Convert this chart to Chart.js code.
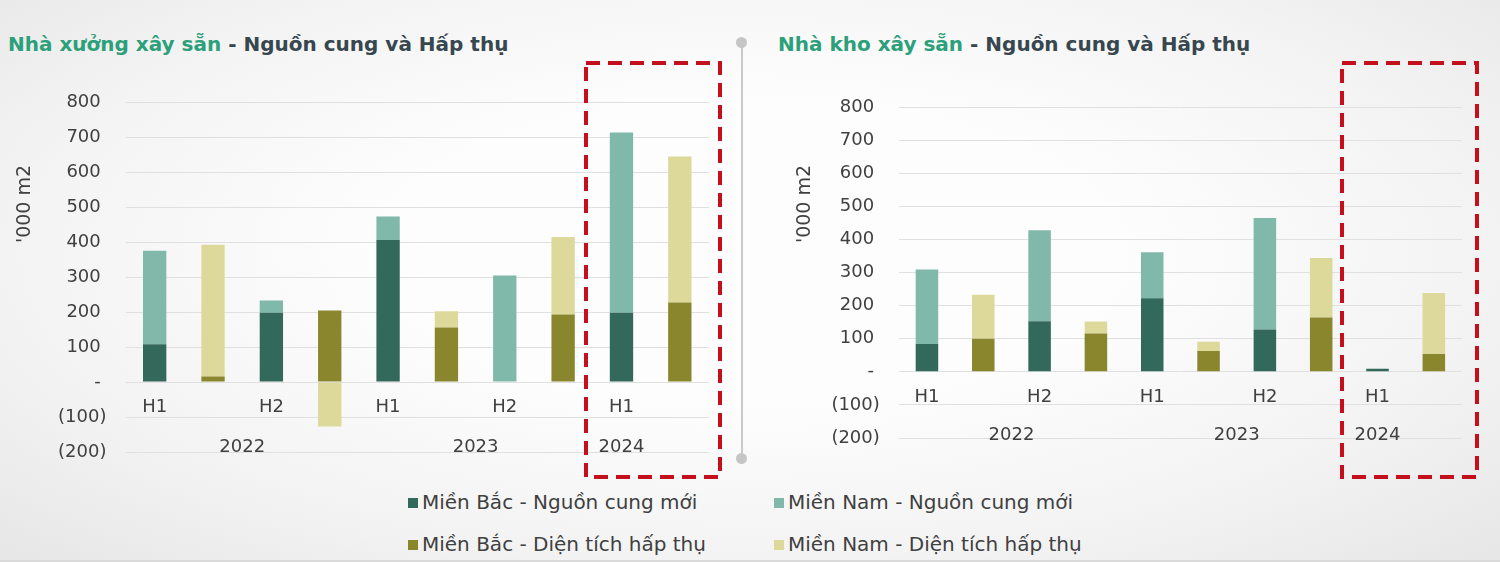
<!DOCTYPE html>
<html>
<head>
<meta charset="utf-8">
<script src="https://cdn.jsdelivr.net/npm/chart.js@4.4.1/dist/chart.umd.min.js"></script>
<style>
  html, body { margin: 0; padding: 0; }
  body {
    width: 1500px; height: 562px; position: relative; overflow: hidden;
    background: radial-gradient(ellipse at 50% 45%, #fdfdfd 35%, #f3f3f3 70%, #e6e6e6 100%);
    font-family: "DejaVu Sans", sans-serif;
  }
  .title { position: absolute; top: 34px; font-weight: bold; font-size: 20px; line-height: 20px; color: #37474f; white-space: nowrap; }
  .title .hl { color: #2ba07a; }
  .wrap { position: absolute; top: 0; height: 482px; }
  .sep { position: absolute; left: 741px; top: 42px; width: 2px; height: 416px; background: #c9c9c9; }
  .dot { position: absolute; width: 11px; height: 11px; border-radius: 50%; background: #c6c6c6; left: 736px; }
  .legend-item { position: absolute; font-size: 20px; line-height: 22px; color: #404040; white-space: nowrap; }
  .legend-item span.box { display: inline-block; width: 10px; height: 10px; margin-right: 4px; vertical-align: 1px; }
  .bottomline { position: absolute; left: 0; top: 560px; width: 1500px; height: 2px; background: #dadada; }
</style>
</head>
<body>
<div class="title" style="left:8px"><span class="hl">Nhà xưởng xây sẵn</span> - Nguồn cung và Hấp thụ</div>
<div class="title" style="left:778px"><span class="hl">Nhà kho xây sẵn</span> - Nguồn cung và Hấp thụ</div>
<div class="sep"></div>
<div class="dot" style="top:37px"></div>
<div class="dot" style="top:453px"></div>
<div class="wrap" style="left:0; width:729px;"><canvas id="factory"></canvas></div>
<div class="wrap" style="left:760px; width:722px;"><canvas id="warehouse"></canvas></div>
<div id="legend"></div>
<div class="bottomline"></div>
<script>
// categories: each half-year has a supply bar then an absorption bar
const periods = ['H1', '', 'H2', '', 'H1', '', 'H2', '', 'H1', ''];
const years = ['2022', '2023', '2024'];
const yearFirst = [0, 4, 8];   // first category index of each year
const yearLast = [3, 7, 8];    // last category index used for the year label

const seriesNames = [
  'Miền Bắc - Nguồn cung mới',
  'Miền Nam - Nguồn cung mới',
  'Miền Bắc - Diện tích hấp thụ',
  'Miền Nam - Diện tích hấp thụ'
];
const seriesColors = ['#33695a', '#80b9aa', '#8a862e', '#dcd99a'];

// Nhà xưởng xây sẵn ('000 m2)
const factoryNorthSupply = [108, null, 198, null, 406, null, 0, null, 198, null];
const factorySouthSupply = [267, null, 35, null, 67, null, 304, null, 515, null];
const factoryNorthAbsorb = [null, 16, null, 204, null, 156, null, 193, null, 227];
const factorySouthAbsorb = [null, 376, null, -127, null, 46, null, 221, null, 417];

// Nhà kho xây sẵn ('000 m2)
const warehouseNorthSupply = [84, null, 153, null, 222, null, 128, null, 9, null];
const warehouseSouthSupply = [225, null, 275, null, 139, null, 337, null, 0, null];
const warehouseNorthAbsorb = [null, 100, null, 116, null, 63, null, 164, null, 54];
const warehouseSouthAbsorb = [null, 133, null, 36, null, 28, null, 180, null, 184];

const yTitle = "'000 m2";
const textColor = '#404040';
const fontFamily = '"DejaVu Sans", sans-serif';

// year labels on a half-step grid (edges of the categories included)
const yearLabels = [];
for (let k = 0; k <= periods.length * 2; k++) yearLabels.push('');
years.forEach((y, i) => { yearLabels[yearFirst[i] + yearLast[i] + 1] = y; });

function fmtTick(v) {
  if (v < 0) return '(' + (-v) + ')';
  if (v === 0) return '- ';
  return v + ' ';
}

// draws the y title and the red dashed highlight box
const decorPlugin = {
  id: 'decor',
  afterDraw(chart, args, opts) {
    const ctx = chart.ctx;
    ctx.save();
    ctx.translate(opts.titleX, opts.titleY);
    ctx.rotate(-Math.PI / 2);
    ctx.font = '19px ' + fontFamily;
    ctx.fillStyle = textColor;
    ctx.textAlign = 'center';
    ctx.textBaseline = 'middle';
    ctx.fillText(yTitle, 0, 0);
    ctx.restore();

    const b = opts.box;
    ctx.save();
    ctx.strokeStyle = '#c3101c';
    ctx.lineWidth = 4;
    ctx.setLineDash([14, 8]);
    ctx.strokeRect(b[0], b[1], b[2] - b[0], b[3] - b[1]);
    ctx.restore();
  }
};

function makeChart(id, data, layout) {
  const datasets = data.map((vals, i) => ({
    label: seriesNames[i],
    data: vals,
    backgroundColor: seriesColors[i],
    borderWidth: 0,
    barPercentage: 0.4,
    categoryPercentage: 1.0
  }));
  const tickFont = { family: fontFamily, size: 18 };
  return new Chart(document.getElementById(id), {
    type: 'bar',
    data: { labels: periods, datasets: datasets },
    plugins: [decorPlugin],
    options: {
      responsive: true,
      maintainAspectRatio: false,
      animation: false,
      devicePixelRatio: 1,
      layout: { padding: layout.padding },
      plugins: {
        legend: { display: false },
        tooltip: { enabled: false },
        decor: { titleX: layout.titleX, titleY: layout.titleY, box: layout.box }
      },
      scales: {
        y: {
          stacked: true,
          min: -200,
          max: 800,
          ticks: { stepSize: 100, padding: 19, color: textColor, font: tickFont, callback: fmtTick },
          grid: { color: '#e0e0e0', drawTicks: false },
          border: { display: false },
          afterFit: s => { s.width = layout.yWidth; }
        },
        x: {
          stacked: true,
          position: { y: 0 },
          grid: { display: false, drawTicks: false },
          border: { display: false },
          ticks: { padding: 15, color: textColor, font: tickFont, maxRotation: 0, autoSkip: false }
        },
        years: {
          type: 'category',
          axis: 'x',
          labels: yearLabels,
          offset: false,
          position: { y: -100 },
          grid: { display: false, drawTicks: false },
          border: { display: false },
          ticks: { padding: 20, color: textColor, font: tickFont, maxRotation: 0, autoSkip: false }
        }
      }
    }
  });
}

makeChart('factory',
  [factoryNorthSupply, factorySouthSupply, factoryNorthAbsorb, factorySouthAbsorb],
  { padding: { left: 0, top: 102, right: 20, bottom: 30 }, yWidth: 125.5,
    titleX: 25, titleY: 204, box: [586, 63, 720, 477] });

makeChart('warehouse',
  [warehouseNorthSupply, warehouseSouthSupply, warehouseNorthAbsorb, warehouseSouthAbsorb],
  { padding: { left: 0, top: 107, right: 20, bottom: 44 }, yWidth: 138.8,
    titleX: 45, titleY: 204, box: [582, 63, 717, 477] });

// shared legend (2 x 2)
const legendPos = [[408, 491], [774, 491], [408, 533], [774, 533]];
const legend = document.getElementById('legend');
seriesNames.forEach((name, i) => {
  const el = document.createElement('div');
  el.className = 'legend-item';
  el.style.left = legendPos[i][0] + 'px';
  el.style.top = legendPos[i][1] + 'px';
  el.innerHTML = '<span class="box" style="background:' + seriesColors[i] + '"></span>' + name;
  legend.appendChild(el);
});
</script>
</body>
</html>
